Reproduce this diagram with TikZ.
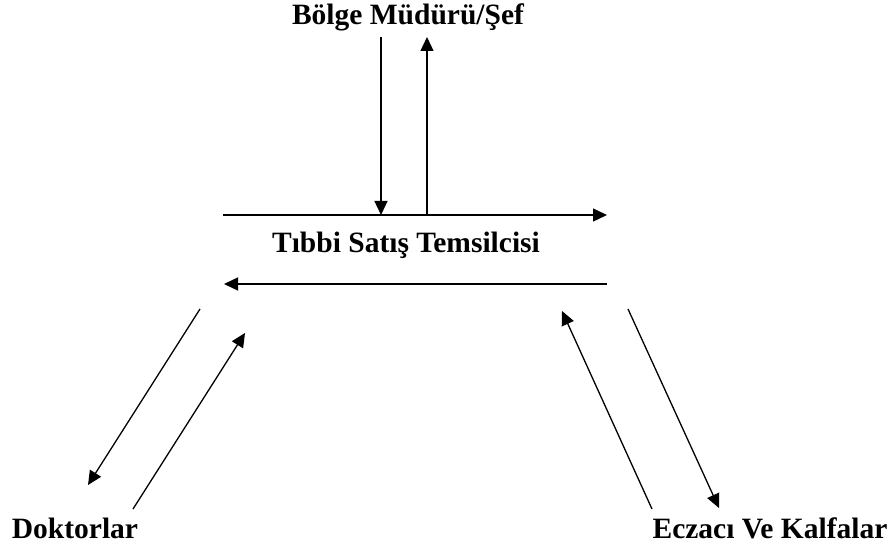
\documentclass[tikz,border=0pt]{standalone}
\usepackage{fontspec}
\setmainfont{Liberation Serif}
\usetikzlibrary{arrows.meta}
\begin{document}
\begin{tikzpicture}[x=1pt,y=-1pt,
  lbl/.style={font=\bfseries\fontsize{29.5}{34}\selectfont, inner sep=0pt, anchor=base},
  arr/.style={line width=1.3pt, -{Triangle[length=14pt,width=13pt]}}]
\useasboundingbox (0,0) rectangle (892,548);
\node[lbl] (top) at (408,25) {Bölge Müdürü/Şef};
\node[lbl] (mid) at (406,253) {Tıbbi Satış Temsilcisi};
\node[lbl] (doc) at (75,538) {Doktorlar};
\node[lbl] (ecz) at (770,538) {Eczacı Ve Kalfalar};
% coordinates
\coordinate (d1s) at (381,37);  \coordinate (d1e) at (381,215);
\coordinate (u1s) at (427,215); \coordinate (u1e) at (427,37);
\coordinate (r1s) at (223,215); \coordinate (r1e) at (607,215);
\coordinate (l1s) at (607,284); \coordinate (l1e) at (224,284);
\coordinate (a1s) at (200,309); \coordinate (a1e) at (88,485);
\coordinate (a2s) at (133,509); \coordinate (a2e) at (245,333);
\coordinate (b1s) at (652,509); \coordinate (b1e) at (562,311);
\coordinate (b2s) at (628,309); \coordinate (b2e) at (719,508);
\draw[arr] (d1s) -- (d1e);
\draw[arr] (u1s) -- (u1e);
\draw[arr] (r1s) -- (r1e);
\draw[arr] (l1s) -- (l1e);
\draw[arr] (a1s) -- (a1e);
\draw[arr] (a2s) -- (a2e);
\draw[arr] (b1s) -- (b1e);
\draw[arr] (b2s) -- (b2e);
\end{tikzpicture}
\end{document}
